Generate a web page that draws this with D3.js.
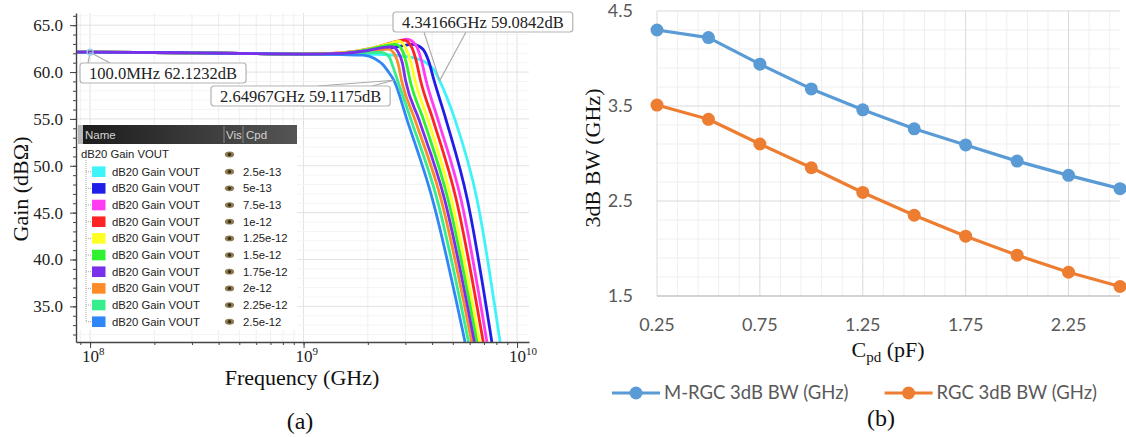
<!DOCTYPE html>
<html>
<head>
<meta charset="utf-8">
<script src="https://cdn.jsdelivr.net/npm/d3@7"></script>
<style>
  body { margin: 0; background: #fff; }
  svg { display: block; }
</style>
</head>
<body>
<svg id="chart" width="1126" height="437"></svg>
<script>
// ---------- data: (a) gain curves, [frequency GHz, gain dB] ----------
const flatPart = [[0.085, 62.12], [0.1, 62.12], [0.3, 62.05], [0.6, 61.96], [1.0, 61.92]];

const curve025 = [[1.5, 61.92], [2.2, 61.88], [2.8, 61.75], [3.3, 61.5], [3.8, 60.9], [4.1, 60.2], [4.34, 59.08], [5.124, 54.9], [6.496, 46.4], [8.325, 31.2]];
const curve050 = [[1.5, 62.0], [2.2, 62.35], [2.8, 62.75], [3.25, 62.95], [3.6, 62.5], [3.85, 61.2], [4.085, 59.1], [4.65, 54.9], [5.85, 46.4], [7.62, 31.2]];
const curve075 = [[1.5, 62.05], [2.2, 62.6], [2.7, 63.2], [3.05, 63.5], [3.35, 62.9], [3.55, 61.4], [3.748, 59.1], [4.266, 54.9], [5.466, 46.4], [7.227, 31.2]];
const curve100 = [[1.5, 62.05], [2.1, 62.55], [2.6, 63.15], [2.95, 63.4], [3.2, 62.7], [3.37, 61.2], [3.532, 59.1], [4.042, 54.9], [5.19, 46.4], [6.945, 31.2]];
const curve125 = [[1.5, 62.05], [2.1, 62.55], [2.5, 63.0], [2.8, 63.3], [3.0, 62.6], [3.17, 61.2], [3.328, 59.1], [3.829, 54.9], [4.928, 46.4], [6.675, 31.2]];
const curve150 = [[1.5, 62.0], [2.0, 62.4], [2.4, 62.8], [2.7, 62.95], [2.9, 62.3], [3.02, 61.1], [3.154, 59.1], [3.648, 54.9], [4.751, 46.4], [6.49, 31.2]];
const curve175 = [[1.5, 62.0], [2.0, 62.3], [2.35, 62.6], [2.6, 62.7], [2.78, 62.1], [2.9, 61.0], [3.004, 59.1], [3.475, 54.9], [4.58, 46.4], [6.31, 31.2]];
const curve200 = [[1.5, 61.95], [2.0, 62.2], [2.3, 62.4], [2.5, 62.45], [2.68, 61.8], [2.78, 60.8], [2.877, 59.1], [3.328, 54.9], [4.411, 46.4], [6.135, 31.2]];
const curve225 = [[1.5, 61.92], [2.0, 62.05], [2.3, 62.1], [2.5, 61.7], [2.63, 60.5], [2.756, 59.1], [3.188, 54.9], [4.225, 46.4], [5.926, 31.2]];
const curve250 = [[1.5, 61.85], [1.9, 61.8], [2.15, 61.45], [2.35, 60.8], [2.5, 60.0], [2.65, 59.12], [3.053, 54.9], [4.02, 46.4], [5.706, 31.2]];

const cpdLabels = ['2.5e-13', '5e-13', '7.5e-13', '1e-12', '1.25e-12', '1.5e-12', '1.75e-12', '2e-12', '2.25e-12', '2.5e-12'];
const gainTicks = [35, 40, 45, 50, 55, 60, 65];
const freqDecades = [8, 9, 10];

// annotation markers [GHz, dB, text]
const markA = [0.1, 62.1232, '100.0MHz 62.1232dB'];
const markB = [2.64967, 59.1175, '2.64967GHz 59.1175dB'];
const markC = [4.34166, 59.0842, '4.34166GHz 59.0842dB'];

// ---------- data: (b) 3dB bandwidth ----------
const cpdValues = [0.25, 0.5, 0.75, 1.0, 1.25, 1.5, 1.75, 2.0, 2.25, 2.5];
const mrgcBW = [4.30, 4.22, 3.94, 3.68, 3.46, 3.26, 3.09, 2.92, 2.77, 2.63];
const rgcBW = [3.51, 3.36, 3.10, 2.85, 2.59, 2.35, 2.13, 1.93, 1.75, 1.60];
const cpdTickLabels = [0.25, 0.75, 1.25, 1.75, 2.25];
const bwTicks = [1.5, 2.5, 3.5, 4.5];
const seriesNames = ['M-RGC 3dB BW (GHz)', 'RGC 3dB BW (GHz)'];

// ---------- styles ----------
const curves = [curve025, curve050, curve075, curve100, curve125, curve150, curve175, curve200, curve225, curve250];
const curveColors = ['#3ff4f8', '#1e1ee8', '#ff3cf2', '#ff2424', '#ffff24', '#30f030', '#7a30ea', '#ff8a28', '#36ee8c', '#2f86f6'];
const drawOrder = [0, 1, 2, 3, 4, 5, 7, 8, 9, 6];
const serif = '"Liberation Serif", "Times New Roman", serif';
const sans = 'Lato, "Liberation Sans", sans-serif';
const ui = '"Liberation Sans", Arial, sans-serif';

const svg = d3.select('#chart');

// =============== (a) ===============
const xA = d3.scaleLog().domain([Math.pow(10, 7.934), Math.pow(10, 10.056)]).range([76, 529]);
const yA = d3.scaleLinear().domain([31.2, 66.3]).range([342, 13]);
const gA = svg.append('g');

// grid
const vGridA = [9e7];
[1e8, 1e9].forEach(d => { for (let k = 1; k < 10; k++) vGridA.push(d * k); });
vGridA.push(1e10);
gA.append('g').selectAll('line').data(vGridA).join('line')
    .attr('x1', d => xA(d)).attr('x2', d => xA(d))
    .attr('y1', 13).attr('y2', 342)
    .attr('stroke', d => [1e8, 1e9, 1e10].includes(d) ? '#e2e2e2' : '#efefef');
gA.append('g').selectAll('line').data(d3.range(32, 67)).join('line')
    .attr('x1', 76).attr('x2', 529)
    .attr('y1', d => yA(d)).attr('y2', d => yA(d))
    .attr('stroke', d => d % 5 === 0 ? '#e2e2e2' : '#f4f4f4');

// curves
svg.append('clipPath').attr('id', 'clipA')
    .append('rect').attr('x', 76).attr('y', 13).attr('width', 453).attr('height', 329);

const lineA = d3.line()
    .x(d => xA(d[0] * 1e9))
    .y(d => yA(d[1]))
    .curve(d3.curveMonotoneX);

gA.append('g').attr('clip-path', 'url(#clipA)')
    .selectAll('path').data(drawOrder).join('path')
    .attr('d', i => lineA(flatPart.concat(curves[i])))
    .attr('fill', 'none')
    .attr('stroke', i => curveColors[i])
    .attr('stroke-width', 2.8)
    .attr('stroke-linejoin', 'round');

// axes
const axA = gA.append('g').attr('color', '#444');
axA.append('g').attr('transform', 'translate(76,0)')
    .call(d3.axisLeft(yA).tickValues(d3.range(32, 67)).tickSize(3).tickSizeOuter(0).tickFormat(''));
axA.append('g').attr('transform', 'translate(76,0)')
    .call(d3.axisLeft(yA).tickValues(gainTicks).tickSize(6).tickFormat(d3.format('.1f')))
    .call(g => g.select('.domain').remove())
    .selectAll('text').attr('font-family', serif).attr('font-size', 17).attr('fill', '#222').attr('x', -13);
axA.append('g').attr('transform', 'translate(0,342)')
    .call(d3.axisBottom(xA).tickValues(vGridA.filter(d => d < 1.2e10)).tickSize(3).tickSizeOuter(0).tickFormat(''));
axA.append('g').attr('transform', 'translate(0,342)')
    .call(d3.axisBottom(xA).tickValues(freqDecades.map(p => Math.pow(10, p))).tickSize(6).tickFormat(''))
    .call(g => g.select('.domain').remove());
axA.selectAll('path.domain').attr('stroke-width', 1.4);

// decade labels with superscripts
const decLab = gA.append('g').selectAll('text').data(freqDecades).join('text')
    .attr('x', d => xA(Math.pow(10, d)) - 8)
    .attr('y', 362)
    .attr('font-family', serif).attr('font-size', 17).attr('fill', '#222');
decLab.append('tspan').text('10');
decLab.append('tspan').attr('dy', -7).attr('font-size', 11).text(d => d);

// titles
gA.append('text').attr('x', 302).attr('y', 385).attr('text-anchor', 'middle')
    .attr('font-family', serif).attr('font-size', 22).attr('fill', '#111').text('Frequency (GHz)');
gA.append('text').attr('transform', 'translate(28,189) rotate(-90)').attr('text-anchor', 'middle')
    .attr('font-family', serif).attr('font-size', 22).attr('fill', '#111').text('Gain (dBΩ)');
gA.append('text').attr('x', 300).attr('y', 429).attr('text-anchor', 'middle')
    .attr('font-family', serif).attr('font-size', 24).attr('fill', '#111').text('(a)');

// legend panel
const lg = gA.append('g');
lg.append('rect').attr('x', 78).attr('y', 125).attr('width', 219).attr('height', 205).attr('fill', '#fff');
const hdrGrad = svg.append('defs').append('linearGradient').attr('id', 'hdrGrad');
hdrGrad.append('stop').attr('offset', '0%').attr('stop-color', '#1c1c1c');
hdrGrad.append('stop').attr('offset', '100%').attr('stop-color', '#555');
lg.append('rect').attr('x', 78).attr('y', 125).attr('width', 5).attr('height', 19).attr('fill', '#b8b8b8');
lg.append('rect').attr('x', 83).attr('y', 125).attr('width', 214).attr('height', 19).attr('fill', 'url(#hdrGrad)');
[224, 243].forEach(x => lg.append('line').attr('x1', x).attr('x2', x).attr('y1', 126).attr('y2', 143).attr('stroke', '#888'));
[['Name', 85], ['Vis', 226], ['Cpd', 246]].forEach(([t, x]) =>
    lg.append('text').attr('x', x).attr('y', 139).attr('font-family', ui).attr('font-size', 11.5).attr('fill', '#d4d4d4').text(t));

function eye(g, x, y) {
    g.append('ellipse').attr('cx', x).attr('cy', y).attr('rx', 4.6).attr('ry', 2.9).attr('fill', '#8c7a52');
    g.append('circle').attr('cx', x).attr('cy', y).attr('r', 1.7).attr('fill', '#3a2c12');
}
lg.append('text').attr('x', 81).attr('y', 154.5).attr('dy', '0.35em')
    .attr('font-family', ui).attr('font-size', 11.3).attr('fill', '#222').text('dB20 Gain VOUT');
eye(lg, 229.5, 154.5);
const rowY = i => 171.7 + i * 16.67;
lg.append('line').attr('x1', 86).attr('x2', 86).attr('y1', 160).attr('y2', rowY(9))
    .attr('stroke', '#aaa').attr('stroke-dasharray', '1,1');
cpdLabels.forEach((lab, i) => {
    const y = rowY(i);
    lg.append('line').attr('x1', 86).attr('x2', 91).attr('y1', y).attr('y2', y).attr('stroke', '#aaa').attr('stroke-dasharray', '1,1');
    lg.append('rect').attr('x', 92).attr('y', y - 5.3).attr('width', 13.5).attr('height', 10.6).attr('fill', curveColors[i]);
    lg.append('text').attr('x', 112).attr('y', y).attr('dy', '0.35em')
        .attr('font-family', ui).attr('font-size', 11.3).attr('fill', '#222').text('dB20 Gain VOUT');
    eye(lg, 229.5, y);
    lg.append('text').attr('x', 243).attr('y', y).attr('dy', '0.35em')
        .attr('font-family', ui).attr('font-size', 11.3).attr('fill', '#222').text(lab);
});

// annotations
function callout(mark, bx, by, ex1, ex2, ey) {
    const px = xA(mark[0] * 1e9), py = yA(mark[1]);
    const g = gA.append('g');
    [ex1, ex2].forEach(ex => g.append('line').attr('x1', px).attr('y1', py).attr('x2', ex).attr('y2', ey)
        .attr('stroke', '#a9a9a9').attr('stroke-width', 1.1));
    const box = g.append('rect').attr('x', bx).attr('y', by).attr('height', 20).attr('rx', 3)
        .attr('fill', '#fff').attr('stroke', '#b3b3b3').attr('stroke-width', 1.2);
    const t = g.append('text').attr('x', bx + 9).attr('y', by + 10).attr('dy', '0.35em')
        .attr('font-family', serif).attr('font-size', 16.5).attr('fill', '#222').text(mark[2]);
    box.attr('width', t.node().getComputedTextLength() + 18);
    return g;
}
callout(markA, 80, 63, 88, 110, 63);
gA.append('circle').attr('cx', xA(markA[0] * 1e9)).attr('cy', yA(markA[1])).attr('r', 3)
    .attr('fill', 'none').attr('stroke', '#9cd3f5').attr('stroke-width', 1.2);
callout(markB, 211, 86, 318, 372, 86);
callout(markC, 393, 12, 424, 466, 32);

// =============== (b) ===============
const xB = d3.scaleLinear().domain([0.25, 2.5]).range([657, 1120]);
const yB = d3.scaleLinear().domain([1.5, 4.5]).range([296, 11]);
const gB = svg.append('g');

const minorH = d3.range(0, 15).map(i => 1.5 + i * 0.2).filter((d, i) => i % 5 !== 0);
gB.append('g').selectAll('line').data(minorH).join('line')
    .attr('x1', 657).attr('x2', 1120).attr('y1', d => yB(d)).attr('y2', d => yB(d))
    .attr('stroke', '#efefef');
const minorV = d3.range(0, 23).filter(i => i % 5 !== 0).map(i => 0.25 + i * 0.1);
gB.append('g').selectAll('line').data(minorV).join('line')
    .attr('x1', d => xB(d)).attr('x2', d => xB(d)).attr('y1', yB(4.5)).attr('y2', yB(1.5))
    .attr('stroke', '#efefef');
gB.append('g').selectAll('line').data(bwTicks.slice(1)).join('line')
    .attr('x1', 657).attr('x2', 1120).attr('y1', d => yB(d)).attr('y2', d => yB(d))
    .attr('stroke', '#d9d9d9');
gB.append('g').selectAll('line').data(cpdTickLabels).join('line')
    .attr('x1', d => xB(d)).attr('x2', d => xB(d)).attr('y1', yB(4.5)).attr('y2', yB(1.5))
    .attr('stroke', '#d9d9d9');
gB.append('line').attr('x1', 657).attr('x2', 1120).attr('y1', yB(1.5)).attr('y2', yB(1.5))
    .attr('stroke', '#c4c4c4').attr('stroke-width', 1.3);

// tick labels
gB.append('g').selectAll('text').data(bwTicks).join('text')
    .attr('x', 633).attr('y', d => yB(d)).attr('dy', '0.35em').attr('text-anchor', 'end')
    .attr('font-family', sans).attr('font-size', 18).attr('fill', '#595959').text(d => d.toFixed(1));
gB.append('g').selectAll('text').data(cpdTickLabels).join('text')
    .attr('x', d => xB(d)).attr('y', 331).attr('text-anchor', 'middle')
    .attr('font-family', sans).attr('font-size', 18).attr('fill', '#595959').text(d => d.toFixed(2));

// series
const seriesB = [mrgcBW, rgcBW];
const colorsB = ['#5b9bd5', '#ed7d31'];
const lineB = d3.line().x((d, i) => xB(cpdValues[i])).y(d => yB(d));
seriesB.forEach((s, k) => {
    gB.append('path').attr('d', lineB(s)).attr('fill', 'none')
        .attr('stroke', colorsB[k]).attr('stroke-width', 3.2).attr('stroke-linejoin', 'round');
    gB.append('g').selectAll('circle').data(s).join('circle')
        .attr('cx', (d, i) => xB(cpdValues[i])).attr('cy', d => yB(d)).attr('r', 6.5)
        .attr('fill', colorsB[k]);
});

// titles
const cpdTitle = gB.append('text').attr('x', 888).attr('y', 357).attr('text-anchor', 'middle')
    .attr('font-family', serif).attr('font-size', 22).attr('fill', '#111');
cpdTitle.append('tspan').text('C');
cpdTitle.append('tspan').attr('dy', 5).attr('font-size', 15).text('pd');
cpdTitle.append('tspan').attr('dy', -5).text(' (pF)');
gB.append('text').attr('transform', 'translate(600,158) rotate(-90)').attr('text-anchor', 'middle')
    .attr('font-family', serif).attr('font-size', 22).attr('fill', '#111').text('3dB BW (GHz)');
gB.append('text').attr('x', 881).attr('y', 426).attr('text-anchor', 'middle')
    .attr('font-family', serif).attr('font-size', 24).attr('fill', '#111').text('(b)');

// legend
const leg = gB.append('g');
let lx = 612;
seriesNames.forEach((name, k) => {
    leg.append('line').attr('x1', lx).attr('x2', lx + 48).attr('y1', 393).attr('y2', 393)
        .attr('stroke', colorsB[k]).attr('stroke-width', 3.2);
    leg.append('circle').attr('cx', lx + 24).attr('cy', 393).attr('r', 6.5).attr('fill', colorsB[k]);
    const t = leg.append('text').attr('x', lx + 52).attr('y', 393).attr('dy', '0.35em')
        .attr('font-family', sans).attr('font-size', 18.5).attr('fill', '#595959').text(name);
    lx += 52 + t.node().getComputedTextLength() + 36;
});
</script>
</body>
</html>
